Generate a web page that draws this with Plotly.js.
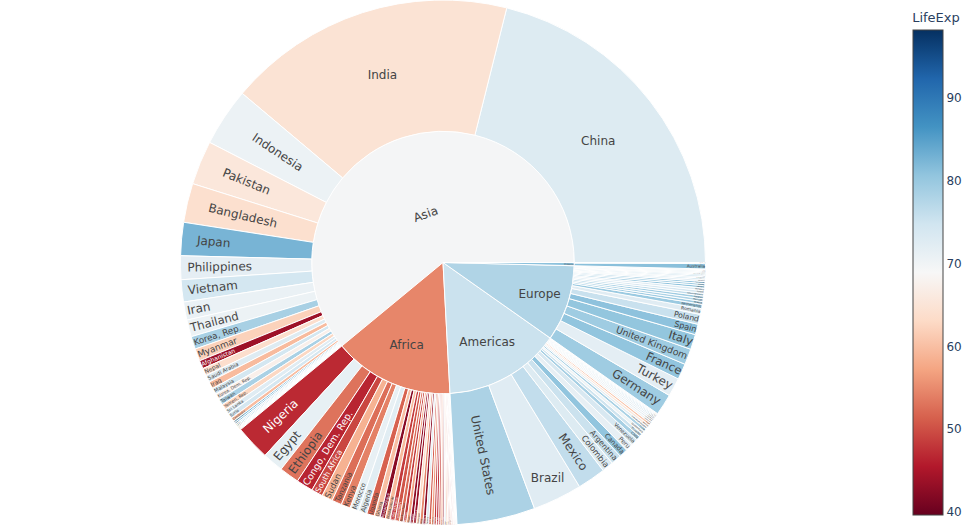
<!DOCTYPE html>
<html>
<head>
<meta charset="utf-8">
<script src="https://cdn.plot.ly/plotly-3.0.1.min.js"></script>
<style>
  html, body { margin: 0; padding: 0; background: #fff; }
  #chart { width: 971px; height: 525px; }
</style>
</head>
<body>
<div id="chart"></div>
<script>
// gapminder 2007: continent, country, life expectancy, population
const continents = ['Asia', 'Europe', 'Africa', 'Americas', 'Oceania'];

const countries = [
  'Afghanistan', 'Bahrain', 'Bangladesh', 'Cambodia', 'China', 'Hong Kong, China', 'India', 'Indonesia',
  'Iran', 'Iraq', 'Israel', 'Japan', 'Jordan', 'Korea, Dem. Rep.', 'Korea, Rep.', 'Kuwait', 'Lebanon',
  'Malaysia', 'Mongolia', 'Myanmar', 'Nepal', 'Oman', 'Pakistan', 'Philippines', 'Saudi Arabia',
  'Singapore', 'Sri Lanka', 'Syria', 'Taiwan', 'Thailand', 'Vietnam', 'West Bank and Gaza', 'Yemen, Rep.',
  'Albania', 'Austria', 'Belgium', 'Bosnia and Herzegovina', 'Bulgaria', 'Croatia', 'Czech Republic',
  'Denmark', 'Finland', 'France', 'Germany', 'Greece', 'Hungary', 'Iceland', 'Ireland', 'Italy',
  'Montenegro', 'Netherlands', 'Norway', 'Poland', 'Portugal', 'Romania', 'Serbia', 'Slovak Republic',
  'Slovenia', 'Spain', 'Sweden', 'Switzerland', 'Turkey', 'United Kingdom',
  'Algeria', 'Angola', 'Benin', 'Botswana', 'Burkina Faso', 'Burundi', 'Cameroon', 'Central African Republic',
  'Chad', 'Comoros', 'Congo, Dem. Rep.', 'Congo, Rep.', "Cote d'Ivoire", 'Djibouti', 'Egypt',
  'Equatorial Guinea', 'Eritrea', 'Ethiopia', 'Gabon', 'Gambia', 'Ghana', 'Guinea', 'Guinea-Bissau',
  'Kenya', 'Lesotho', 'Liberia', 'Libya', 'Madagascar', 'Malawi', 'Mali', 'Mauritania', 'Mauritius',
  'Morocco', 'Mozambique', 'Namibia', 'Niger', 'Nigeria', 'Reunion', 'Rwanda', 'Sao Tome and Principe',
  'Senegal', 'Sierra Leone', 'Somalia', 'South Africa', 'Sudan', 'Swaziland', 'Tanzania', 'Togo',
  'Tunisia', 'Uganda', 'Zambia', 'Zimbabwe',
  'Argentina', 'Bolivia', 'Brazil', 'Canada', 'Chile', 'Colombia', 'Costa Rica', 'Cuba',
  'Dominican Republic', 'Ecuador', 'El Salvador', 'Guatemala', 'Haiti', 'Honduras', 'Jamaica', 'Mexico',
  'Nicaragua', 'Panama', 'Paraguay', 'Peru', 'Puerto Rico', 'Trinidad and Tobago', 'United States',
  'Uruguay', 'Venezuela',
  'Australia', 'New Zealand'
];

// how many countries of each continent, in the order above
const continentCounts = [33, 30, 52, 25, 2];

const lifeExp = [
  43.828, 75.635, 64.062, 59.723, 72.961, 82.208, 64.698, 70.65,
  70.964, 59.545, 80.745, 82.603, 72.535, 67.297, 78.623, 77.588, 71.993,
  74.241, 66.803, 62.069, 63.785, 75.64, 65.483, 71.688, 72.777,
  79.972, 72.396, 74.143, 78.4, 70.616, 74.249, 73.422, 62.698,
  76.423, 79.829, 79.441, 74.852, 73.005, 75.748, 76.486,
  78.332, 79.313, 80.657, 79.406, 79.483, 73.338, 81.757, 78.885, 80.546,
  74.543, 79.762, 80.196, 75.563, 78.098, 72.476, 74.002, 74.663,
  77.926, 80.941, 80.884, 81.701, 71.777, 79.425,
  72.301, 42.731, 56.728, 50.728, 52.295, 49.58, 50.43, 44.741,
  50.651, 65.152, 46.462, 55.322, 48.328, 54.791, 71.338,
  51.579, 58.04, 52.947, 56.735, 59.448, 60.022, 56.007, 46.388,
  54.11, 42.592, 45.678, 73.952, 59.443, 48.303, 54.467, 64.164, 72.801,
  71.164, 42.082, 52.906, 56.867, 46.859, 76.442, 46.242, 65.528,
  63.062, 42.568, 48.159, 49.339, 58.556, 39.613, 52.517, 58.42,
  73.923, 51.542, 42.384, 43.487,
  75.32, 65.554, 72.39, 80.653, 78.553, 72.889, 78.782, 78.273,
  72.235, 74.994, 71.878, 70.259, 60.916, 70.198, 72.567, 76.195,
  72.899, 75.537, 71.752, 71.421, 78.746, 69.819, 78.242,
  76.384, 73.747,
  81.235, 80.204
];

const pop = [
  31889923, 708573, 150448339, 14131858, 1318683096, 6980412, 1110396331, 223547000,
  69453570, 27499638, 6426679, 127467972, 6053193, 23301725, 49044790, 2505559, 3921278,
  24821286, 2874127, 47761980, 28901790, 3204897, 169270617, 91077287, 27601038,
  4553009, 20378239, 19314747, 23174294, 65068149, 85262356, 4018332, 22211743,
  3600523, 8199783, 10392226, 4552198, 7322858, 4493312, 10228744,
  5468120, 5238460, 61083916, 82400996, 10706290, 9956108, 301931, 4109086, 58147733,
  684736, 16570613, 4627926, 38518241, 10642836, 22276056, 10150265, 5447502,
  2009245, 40448191, 9031088, 7554661, 71158647, 60776238,
  33333216, 12420476, 8078314, 1639131, 14326203, 8390505, 17696293, 4369038,
  10238807, 710960, 64606759, 3800610, 18013409, 496374, 80264543,
  551201, 4906585, 76511887, 1454867, 1688359, 22873338, 9947814, 1472041,
  35610177, 2012649, 3193942, 6036914, 19167654, 13327079, 12031795, 3270065, 1250882,
  33757175, 19951656, 2055080, 12894865, 135031164, 798094, 8860588, 199579,
  12267493, 6144562, 9118773, 43997828, 42292929, 1133066, 38139640, 5701579,
  10276158, 29170398, 11746035, 12311143,
  40301927, 9119152, 190010647, 33390141, 16284741, 44227550, 4133884, 11416987,
  9319622, 13755680, 6939688, 12572928, 8502814, 7483763, 2780132, 108700891,
  5675356, 3242173, 6667147, 28674757, 3942491, 1056608, 301139947,
  3447496, 26084662,
  20434176, 4115771
];

// build the hierarchy: continents get pop-weighted life expectancy, like px.sunburst
const ids = [], labels = [], parents = [], values = [], colors = [];
let start = 0;
continents.forEach((cont, k) => {
  const n = continentCounts[k];
  let popSum = 0, wSum = 0;
  for (let i = start; i < start + n; i++) {
    ids.push(cont + '/' + countries[i]);
    labels.push(countries[i]);
    parents.push(cont);
    values.push(pop[i]);
    colors.push(lifeExp[i]);
    popSum += pop[i];
    wSum += pop[i] * lifeExp[i];
  }
  ids.push(cont);
  labels.push(cont);
  parents.push('');
  values.push(popSum);
  colors.push(wSum / popSum);
  start += n;
});

let totalPop = 0, totalW = 0;
pop.forEach((p, i) => { totalPop += p; totalW += p * lifeExp[i]; });
const midpoint = totalW / totalPop;

const rdbu = [
  [0.0, 'rgb(103,0,31)'], [0.1, 'rgb(178,24,43)'], [0.2, 'rgb(214,96,77)'],
  [0.3, 'rgb(244,165,130)'], [0.4, 'rgb(253,219,199)'], [0.5, 'rgb(247,247,247)'],
  [0.6, 'rgb(209,229,240)'], [0.7, 'rgb(146,197,222)'], [0.8, 'rgb(67,147,195)'],
  [0.9, 'rgb(33,102,172)'], [1.0, 'rgb(5,48,97)']
];

const data = [{
  type: 'sunburst',
  ids: ids,
  labels: labels,
  parents: parents,
  values: values,
  branchvalues: 'total',
  marker: {
    colors: colors,
    coloraxis: 'coloraxis',
    line: {color: '#fff', width: 1},
  },
  hovertemplate: '%{label}<br>pop=%{value}<br>lifeExp=%{color:.2f}<extra></extra>',
}];

const layout = {
  width: 971,
  height: 525,
  margin: {t: 0, l: 0, r: 0, b: 0},
  paper_bgcolor: '#fff',
  font: {family: 'Verdana, "DejaVu Sans", sans-serif', color: '#2a3f5f'},
  coloraxis: {
    colorscale: rdbu,
    cmid: midpoint,
    colorbar: {
      title: {text: 'LifeExp', font: {size: 13}},
      thickness: 30,
      outlinewidth: 1,
      outlinecolor: '#444',
      tickfont: {size: 12},
    },
  },
};

Plotly.newPlot('chart', data, layout, {displayModeBar: false});
</script>
</body>
</html>
